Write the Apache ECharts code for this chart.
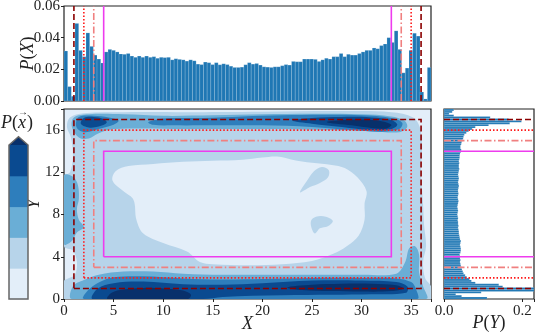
<!DOCTYPE html>
<html>
<head>
<meta charset="utf-8">
<script src="https://cdn.jsdelivr.net/npm/echarts@6/dist/echarts.min.js"></script>
<style>
  html, body { margin: 0; padding: 0; background: #fff; }
  #chart { width: 540px; height: 332px; }
</style>
</head>
<body>
<div id="chart"></div>
<script type="text/javascript">
  // axis ranges of the joint plot
  var xMax = 37, yMax = 18;
  var nBins = 100;

  // marginal P(X), 100 bins over 0..37
  var pX = [
    0.0316, 0.0091, 0.003, 0.049, 0.032, 0.028, 0.043, 0.0345, 0.029, 0.0265,
    0.024, 0.031, 0.0326, 0.032, 0.031, 0.0297, 0.0295, 0.030, 0.0284, 0.0276,
    0.0284, 0.0276, 0.0284, 0.0276, 0.028, 0.027, 0.0276, 0.0274, 0.0276, 0.026,
    0.0267, 0.0263, 0.026, 0.0252, 0.026, 0.0254, 0.0233, 0.023, 0.0246, 0.0242,
    0.023, 0.0242, 0.0229, 0.0235, 0.023, 0.022, 0.0212, 0.0212, 0.0214, 0.0229,
    0.0242, 0.0233, 0.0237, 0.0227, 0.0216, 0.0214, 0.0212, 0.0216, 0.0216, 0.0223,
    0.023, 0.0227, 0.025, 0.0248, 0.0248, 0.0265, 0.0265, 0.0265, 0.0263, 0.025,
    0.026, 0.027, 0.0265, 0.028, 0.028, 0.030, 0.028, 0.0295, 0.029, 0.029,
    0.030, 0.031, 0.032, 0.032, 0.0335, 0.033, 0.035, 0.036, 0.040, 0.037,
    0.0443, 0.0326, 0.0178, 0.0208, 0.032, 0.0428, 0.041, 0.0057, 0.0013, 0.0212
  ];

  // marginal P(Y), 100 bins over 0..18
  var pY = [
    0.11, 0.045, 0.03, 0.095, 0.24, 0.235, 0.15, 0.14, 0.08, 0.07,
    0.065, 0.058, 0.054, 0.05, 0.048, 0.046, 0.045, 0.043, 0.042, 0.041,
    0.042, 0.041, 0.041, 0.04, 0.042, 0.043, 0.043, 0.042, 0.041, 0.042,
    0.043, 0.041, 0.040, 0.039, 0.038, 0.038, 0.037, 0.036, 0.037, 0.036,
    0.036, 0.035, 0.036, 0.035, 0.034, 0.035, 0.036, 0.035, 0.034, 0.035,
    0.036, 0.037, 0.036, 0.035, 0.036, 0.037, 0.036, 0.036, 0.037, 0.038,
    0.037, 0.036, 0.037, 0.038, 0.037, 0.036, 0.037, 0.038, 0.039, 0.038,
    0.038, 0.039, 0.038, 0.039, 0.040, 0.040, 0.041, 0.043, 0.044, 0.042,
    0.042, 0.044, 0.045, 0.047, 0.049, 0.05, 0.052, 0.057, 0.063, 0.072,
    0.08, 0.114, 0.168, 0.198, 0.165, 0.118, 0.025, 0.013, 0.021, 0.025
  ];

  // nested boxes: inset from the plot edges
  var boxInsets = [1, 2, 3, 4];

  // colour levels of the density (lightest .. extend)
  var levelColors = ['#e3eef9', '#b7d4ea', '#6aaed6', '#2e7ebc', '#0a4a90', '#08306b'];

  // filled contour outlines, data coordinates (x, y)
  var lvl1Outer = [[0,0],[37,0],[37,1.2],[36.4,2],[36.2,3.5],[36.5,5],[36.3,7],[36.2,9],[36.0,12],[36.1,14.5],[35.9,16.2],[35.2,17.2],[33,17.7],[28,17.8],[20,17.75],[12,17.7],[6,17.7],[2,17.6],[0.6,17.2],[0.3,16.3],[0.7,15.3],[0.9,13.5],[0.6,12],[0,11.6],[0,5],[0.9,4.6],[1.3,3.5],[1.1,2.3],[0.3,1.9],[0,1.7]];
  var lvl0Center = [[7,9.4],[6,10.2],[4.9,11.2],[5.2,12.1],[6.5,12.6],[9,12.8],[12,13.0],[15,13.1],[18,13.2],[20,13.4],[21.5,13.5],[23,13.2],[25,12.9],[27,12.7],[28.3,12.4],[29.6,11.5],[30.5,10.2],[30.3,9],[30.3,7.5],[29.7,6],[28.5,5],[27.2,4.3],[25,3.6],[22,3.3],[18.7,3.2],[15,3.3],[13.7,3.5],[12.4,4.5],[10,5.3],[8,6.2],[7.3,7.5]];
  var lvl1IslandA = [[23.8,10.1],[24.5,11.2],[25.2,12.1],[26,12.5],[26.7,12.2],[26.6,11.5],[25.8,11],[24.8,10.6]];
  var lvl1IslandB = [[24.9,7.4],[25.4,7.8],[26.4,7.8],[27.1,7.4],[26.6,6.9],[25.8,6.7],[25.3,6.2],[25,6.6]];
  var lvl2Top = [[0.8,16.3],[1,17.2],[2.5,17.5],[6,17.5],[10,17.35],[15,17.4],[20,17.5],[25,17.55],[30,17.5],[33,17.3],[34.3,16.9],[34.6,16.3],[33.8,15.8],[31,15.9],[27,16.0],[22,16.1],[17,16.1],[12,16.1],[8,16.15],[5,16.1],[3.5,15.7],[2.5,15.2],[1.5,15.3]];
  var lvl2Left = [[0,5.2],[0.8,5.5],[1.3,6.3],[2,6.8],[1.5,7.5],[1.3,8.5],[1.5,9.5],[1.4,10.8],[1,11.5],[0.4,11.8],[0,11.7]];
  var lvl2Bottom = [[0.8,0],[0.9,1.2],[2,1.8],[3.5,2.3],[6,2.6],[9,2.6],[12,2.4],[16,2.3],[20,2.3],[25,2.3],[30,2.3],[33.5,2.4],[34.4,3.5],[34.8,4.8],[35.4,5.0],[35.8,4.2],[35.8,2.5],[36.2,1.2],[36.5,0]];
  var lvl3Bottom = [[2,0],[2.4,0.8],[3.6,1.6],[5,2.05],[8,2.15],[12,1.95],[16,1.85],[20,1.9],[25,2.0],[30,2.0],[33.5,1.95],[35,1.6],[35.5,0.9],[35.6,0]];
  var lvl4Bottom = [[2.9,0],[3.4,1.0],[5,1.5],[8,1.65],[12,1.4],[16,1.35],[20,1.5],[25,1.75],[30,1.75],[33.5,1.6],[34.6,1.2],[34.5,0.6],[31,0.45],[27,0.4],[22,0.35],[16,0.2],[14,0]];
  var lvl5BottomL = [[4.4,0],[4.8,0.6],[6,0.9],[8,1.05],[10,1.0],[12,0.8],[12.8,0.4],[12.5,0]];
  var lvl5BottomR = [[22.5,1.1],[25,1.35],[28,1.45],[31,1.45],[33.5,1.3],[34.2,1.0],[33,0.75],[30,0.7],[27,0.75],[24,0.85]];
  var lvl3TopL = [[1.2,16.5],[1.5,17.25],[3,17.35],[4.5,17.2],[5.5,16.9],[5,16.5],[3.5,16.1],[2.2,15.8],[1.5,16]];
  var lvl3TopR = [[8.5,16.75],[10,17.1],[14,17.15],[18,17.3],[22,17.4],[26,17.45],[30,17.4],[33,17.15],[34.1,16.7],[33.8,16.1],[32,15.85],[29,16.0],[25,16.3],[20,16.45],[15,16.45],[11,16.45],[9,16.5]];
  var lvl4TopL = [[1.7,16.6],[2,17.15],[3,17.25],[4,17.05],[4.3,16.7],[3.5,16.35],[2.5,16.25]];
  var lvl4TopR = [[23,16.9],[25,17.15],[28,17.25],[31,17.2],[33,16.95],[33.6,16.5],[33,16.1],[31,16.0],[28,16.3],[25,16.6]];
  var lvl5TopR = [[26.5,16.75],[28,16.95],[30,17.0],[32,16.85],[33,16.5],[32.5,16.15],[31,16.2],[29,16.45]];

  // drawing order: [level, outline]
  var contourLayers = [
    [1, lvl1Outer], [0, lvl0Center], [1, lvl1IslandA], [1, lvl1IslandB],
    [2, lvl2Top], [2, lvl2Left], [2, lvl2Bottom],
    [3, lvl3Bottom], [4, lvl4Bottom], [5, lvl5BottomL], [5, lvl5BottomR],
    [3, lvl3TopL], [3, lvl3TopR], [4, lvl4TopL], [4, lvl4TopR], [5, lvl5TopR]
  ];

  var lineStyles = [
    { stroke: '#8b0000', lineWidth: 1.6, lineDash: [6, 3] },
    { stroke: '#ff1a1a', lineWidth: 1.6, lineDash: [1.5, 2] },
    { stroke: '#f08080', lineWidth: 1.6, lineDash: [7, 2.5, 1.5, 2.5] },
    { stroke: '#ee3cee', lineWidth: 1.6 }
  ];

  var serif = "'Liberation Serif', 'DejaVu Serif', serif";
  var tickLabel = { color: '#222', fontFamily: serif, fontSize: 15 };
  var nameStyle = { color: '#222', fontFamily: serif, fontSize: 18, rich: { i: { fontStyle: 'italic', fontFamily: serif, fontSize: 18 } } };

  var xw = xMax / nBins, yh = yMax / nBins;

  function renderTopBar(params, api) {
    var x = api.value(0), v = api.value(1);
    var p0 = api.coord([x - xw / 2, v]);
    var p1 = api.coord([x + xw / 2, 0]);
    return { type: 'rect', shape: { x: p0[0], y: p0[1], width: p1[0] - p0[0], height: p1[1] - p0[1] },
      style: { fill: '#1f77b4', stroke: 'rgba(255,255,255,0.3)', lineWidth: 0.5 } };
  }
  function renderRightBar(params, api) {
    var v = api.value(0), y = api.value(1);
    var p0 = api.coord([0, y + yh / 2]);
    var p1 = api.coord([v, y - yh / 2]);
    return { type: 'rect', shape: { x: p0[0], y: p0[1], width: p1[0] - p0[0], height: p1[1] - p0[1] },
      style: { fill: '#1f77b4', stroke: 'rgba(255,255,255,0.3)', lineWidth: 0.5 } };
  }
  function renderContour(params, api) {
    var layer = contourLayers[params.dataIndex];
    var pts = layer[1].map(function (p) { return api.coord(p); });
    return { type: 'polygon', shape: { points: pts, smooth: 0.35 }, style: { fill: levelColors[layer[0]] } };
  }
  function renderBox(params, api) {
    var d = boxInsets[params.dataIndex];
    var a = api.coord([d, d]), b = api.coord([xMax - d, yMax - d]);
    return { type: 'polyline', shape: { points: [[a[0], a[1]], [b[0], a[1]], [b[0], b[1]], [a[0], b[1]], [a[0], a[1]]] },
      style: Object.assign({ fill: null }, lineStyles[params.dataIndex]) };
  }
  function renderVLines(params, api) {
    var d = boxInsets[params.dataIndex];
    var st = Object.assign({ fill: null }, lineStyles[params.dataIndex]);
    var l0 = api.coord([d, 0]), l1 = api.coord([d, 0.06]);
    var r0 = api.coord([xMax - d, 0]), r1 = api.coord([xMax - d, 0.06]);
    return { type: 'group', children: [
      { type: 'line', shape: { x1: l0[0], y1: l0[1], x2: l1[0], y2: l1[1] }, style: st },
      { type: 'line', shape: { x1: r0[0], y1: r0[1], x2: r1[0], y2: r1[1] }, style: st }
    ] };
  }
  function renderHLines(params, api) {
    var d = boxInsets[params.dataIndex];
    var st = Object.assign({ fill: null }, lineStyles[params.dataIndex]);
    var b0 = api.coord([0, d]), b1 = api.coord([0.23, d]);
    var t0 = api.coord([0, yMax - d]), t1 = api.coord([0.23, yMax - d]);
    return { type: 'group', children: [
      { type: 'line', shape: { x1: b0[0], y1: b0[1], x2: b1[0], y2: b1[1] }, style: st },
      { type: 'line', shape: { x1: t0[0], y1: t0[1], x2: t1[0], y2: t1[1] }, style: st }
    ] };
  }
  // colour bar: 5 bands plus the "extend" triangle
  var cbBands = [0, 1, 2, 3, 4];
  function renderColorbar(params, api) {
    var children = cbBands.map(function (k) {
      var p0 = api.coord([0, k + 1]), p1 = api.coord([1, k]);
      return { type: 'rect', shape: { x: p0[0], y: p0[1], width: p1[0] - p0[0], height: p1[1] - p0[1] + 0.5 }, style: { fill: levelColors[k] } };
    });
    var tri = [[1, 5], [0.5, 5.27], [0, 5]].map(function (p) { return api.coord(p); });
    children.push({ type: 'polygon', shape: { points: tri }, style: { fill: levelColors[5] } });
    var outline = [[0, 0], [1, 0], [1, 5], [0.5, 5.27], [0, 5]].map(function (p) { return api.coord(p); });
    children.push({ type: 'polygon', shape: { points: outline }, style: { fill: null, stroke: '#666', lineWidth: 1.5 } });
    return { type: 'group', children: children };
  }

  var noAxisLine = { show: false };
  var ticks = { show: true, length: 3, lineStyle: { color: '#222' } };

  var chart = echarts.init(document.getElementById('chart'), null, { renderer: 'canvas' });
  chart.setOption({
    animation: false,
    backgroundColor: '#fff',
    grid: [
      { left: 64, top: 6, width: 367, height: 95, outerBoundsMode: 'none', show: true, borderColor: '#222', borderWidth: 1.2, backgroundColor: '#fff' },
      { left: 64, top: 109, width: 367, height: 190, outerBoundsMode: 'none', show: true, borderColor: '#222', borderWidth: 1.2, backgroundColor: levelColors[0] },
      { left: 444, top: 109, width: 90, height: 190, outerBoundsMode: 'none', show: true, borderColor: '#222', borderWidth: 1.2, backgroundColor: '#fff' },
      { left: 9, top: 145, width: 19, height: 154, outerBoundsMode: 'none' }
    ],
    xAxis: [
      { gridIndex: 0, type: 'value', min: 0, max: xMax, axisLabel: { show: false }, axisTick: { show: false }, axisLine: noAxisLine, splitLine: { show: false } },
      { gridIndex: 1, type: 'value', min: 0, max: xMax, interval: 5,
        name: '{i|X}', nameLocation: 'middle', nameGap: 16, nameMoveOverlap: false, nameTextStyle: nameStyle,
        axisLabel: Object.assign({ margin: 5, formatter: function (v) { return v % 5 === 0 ? String(v) : ''; } }, tickLabel),
        axisTick: ticks, axisLine: noAxisLine, splitLine: { show: false } },
      { gridIndex: 2, type: 'value', min: 0, max: 0.23, interval: 0.2,
        name: '{i|P}({i|Y})', nameLocation: 'middle', nameGap: 15, nameMoveOverlap: false, nameTextStyle: nameStyle,
        axisLabel: Object.assign({ margin: 5, formatter: function (v) { return v > 0.21 ? '' : v.toFixed(1); } }, tickLabel),
        axisTick: ticks, axisLine: noAxisLine, splitLine: { show: false } },
      { gridIndex: 3, type: 'value', min: 0, max: 1, show: false }
    ],
    yAxis: [
      { gridIndex: 0, type: 'value', min: 0, max: 0.06, interval: 0.02,
        name: '{i|P}({i|X})', nameLocation: 'middle', nameGap: 27, nameRotate: 90, nameMoveOverlap: false, nameTextStyle: nameStyle,
        axisLabel: Object.assign({ margin: 4, formatter: function (v) { return v.toFixed(2); } }, tickLabel),
        axisTick: ticks, axisLine: noAxisLine, splitLine: { show: false } },
      { gridIndex: 1, type: 'value', min: 0, max: yMax, interval: 4,
        name: '{i|Y}', nameLocation: 'middle', nameGap: 21, nameRotate: 90, nameMoveOverlap: false, nameTextStyle: nameStyle,
        axisLabel: Object.assign({ margin: 4, formatter: function (v) { return v % 4 === 0 ? String(v) : ''; } }, tickLabel),
        axisTick: ticks, axisLine: noAxisLine, splitLine: { show: false } },
      { gridIndex: 2, type: 'value', min: 0, max: yMax, axisLabel: { show: false }, axisTick: { show: false }, axisLine: noAxisLine, splitLine: { show: false } },
      { gridIndex: 3, type: 'value', min: 0, max: 5, show: false }
    ],
    graphic: [
      { type: 'text', left: 1, top: 114, style: { text: '{i|P}(  )', fill: '#222', fontFamily: serif, fontSize: 18,
        rich: { i: { fontStyle: 'italic', fontFamily: serif, fontSize: 18 } } } },
      { type: 'text', left: 18, top: 114, style: { text: 'x', fill: '#222', fontFamily: serif, fontSize: 18, fontStyle: 'italic' } },
      { type: 'text', left: 18, top: 107, style: { text: '→', fill: '#222', fontFamily: serif, fontSize: 10 } }
    ],
    series: [
      { type: 'custom', xAxisIndex: 0, yAxisIndex: 0, clip: true, renderItem: renderTopBar,
        data: pX.map(function (v, i) { return [(i + 0.5) * xw, v]; }), encode: { x: 0, y: 1 }, z: 2 },
      { type: 'custom', xAxisIndex: 0, yAxisIndex: 0, renderItem: renderVLines,
        data: boxInsets.map(function (d) { return [d, 0]; }), encode: { x: 0, y: 1 }, z: 3 },
      { type: 'custom', xAxisIndex: 1, yAxisIndex: 1, clip: true, renderItem: renderContour,
        data: contourLayers.map(function (c) { return [c[1][0][0], c[1][0][1]]; }), encode: { x: 0, y: 1 }, z: 2 },
      { type: 'custom', xAxisIndex: 1, yAxisIndex: 1, renderItem: renderBox,
        data: boxInsets.map(function (d) { return [d, d]; }), encode: { x: 0, y: 1 }, z: 3 },
      { type: 'custom', xAxisIndex: 2, yAxisIndex: 2, clip: true, renderItem: renderRightBar,
        data: pY.map(function (v, j) { return [v, (j + 0.5) * yh]; }), encode: { x: 0, y: 1 }, z: 2 },
      { type: 'custom', xAxisIndex: 2, yAxisIndex: 2, renderItem: renderHLines,
        data: boxInsets.map(function (d) { return [0, d]; }), encode: { x: 0, y: 1 }, z: 3 },
      { type: 'custom', xAxisIndex: 3, yAxisIndex: 3, renderItem: renderColorbar,
        data: [[0.5, 2.5]], encode: { x: 0, y: 1 }, z: 2 }
    ]
  });
</script>
</body>
</html>
